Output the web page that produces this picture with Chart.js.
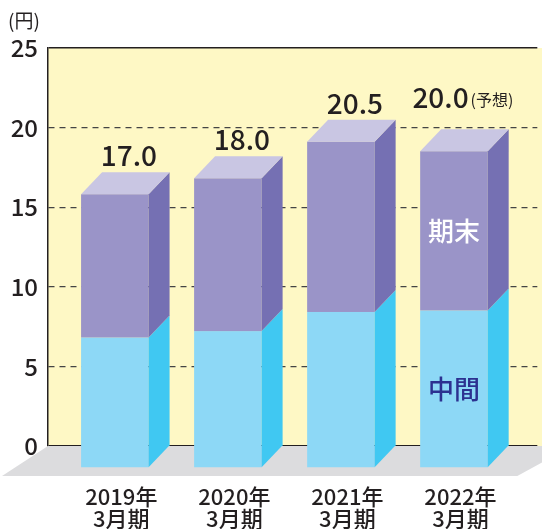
<!DOCTYPE html>
<html>
<head>
<meta charset="utf-8">
<script src="https://cdn.jsdelivr.net/npm/chart.js@4/dist/chart.umd.min.js"></script>
<style>
  body { margin: 0; background: #fff; }
  #wrap { width: 542px; height: 529px; }
</style>
</head>
<body>
<div id="wrap"><canvas id="myChart" width="542" height="529"></canvas></div>
<script>
const labels = [['2019年', '3月期'], ['2020年', '3月期'], ['2021年', '3月期'], ['2022年', '3月期']];
const interim = [8.2, 8.6, 9.8, 9.9];
const yearEnd = [9.0, 9.6, 10.7, 10.0];
const totalLabels = ['17.0', '18.0', '20.5', '20.0'];
const totalNotes = ['', '', '', '(予想)'];
const yTicks = [0, 5, 10, 15, 20, 25];

const FONT = "'Noto Sans CJK JP', 'Noto Sans', sans-serif";
const INK = '#231f20';
const DX = 21, DY = 22; // depth of the 3d bars

function poly(ctx, pts, color) {
    ctx.beginPath();
    ctx.moveTo(pts[0][0], pts[0][1]);
    pts.slice(1).forEach(p => ctx.lineTo(p[0], p[1]));
    ctx.closePath();
    ctx.fillStyle = color;
    ctx.fill();
}

const backdrop = {
    id: 'backdrop',
    beforeDraw(chart) {
        const { ctx, chartArea } = chart;
        ctx.save();
        ctx.fillStyle = '#fef8c5';
        ctx.fillRect(chartArea.left, chartArea.top, chart.width - chartArea.left, chartArea.bottom - chartArea.top);
        ctx.fillStyle = INK;
        ctx.font = '19px ' + FONT;
        ctx.textAlign = 'left';
        ctx.textBaseline = 'middle';
        ctx.fillText('(円)', 8, 21);
        ctx.restore();
    },
    beforeDatasetsDraw(chart) {
        // grey floor
        const { ctx, chartArea } = chart;
        const y0 = chart.scales.y.getPixelForValue(0);
        poly(ctx, [
            [chartArea.left, y0], [chart.width + 30, y0],
            [chartArea.right - 20, y0 + 30], [chartArea.left - 46, y0 + 30]
        ], '#dcdcde');
    }
};

const prism = {
    id: 'prism',
    afterDatasetsDraw(chart) {
        const ctx = chart.ctx;
        const metas = chart.getSortedVisibleDatasetMetas();
        ctx.save();
        labels.forEach((_, i) => {
            let top = null;
            metas.forEach((meta, k) => {
                const ds = chart.data.datasets[meta.index];
                const { x, y, base, width } = meta.data[i].getProps(['x', 'y', 'base', 'width'], true);
                const l = x - width / 2, r = x + width / 2;
                ctx.fillStyle = ds.frontColor;
                ctx.fillRect(l - DX, y + DY, width, base - y);
                poly(ctx, [[r - DX, y + DY], [r, y], [r, base], [r - DX, base + DY]], ds.sideColor);
                if (k === metas.length - 1) {
                    poly(ctx, [[l - DX, y + DY], [l, y], [r, y], [r - DX, y + DY]], ds.topColor);
                    top = { x, y };
                }
                // series names inside the last bar
                if (i === labels.length - 1) {
                    ctx.fillStyle = ds.nameColor;
                    ctx.font = '500 26px ' + FONT;
                    ctx.textAlign = 'center';
                    ctx.textBaseline = 'middle';
                    ctx.fillText(ds.label, x - DX, (y + base) / 2 + DY);
                }
            });

            // total label on top
            const note = totalNotes[i];
            const lift = note ? 21 : 6;
            ctx.fillStyle = INK;
            ctx.textBaseline = 'alphabetic';
            ctx.textAlign = 'left';
            ctx.font = '500 28px ' + FONT;
            const w1 = ctx.measureText(totalLabels[i]).width;
            ctx.font = '16px ' + FONT;
            const w2 = note ? ctx.measureText(note).width + 2 : 0;
            const cx = top.x - (note ? 12 : 7);
            let sx = cx - (w1 + w2) / 2;
            ctx.font = '500 28px ' + FONT;
            ctx.fillText(totalLabels[i], sx, top.y - lift);
            if (note) {
                ctx.font = '16px ' + FONT;
                ctx.fillText(note, sx + w1 + 2, top.y - lift - 2);
            }
        });
        ctx.restore();
    }
};

const ctx = document.getElementById('myChart').getContext('2d');
const myChart = new Chart(ctx, {
    type: 'bar',
    data: {
        datasets: [{
            label: '中間',
            data: interim.map((v, i) => ({ x: i, y: v })),
            backgroundColor: 'rgba(0,0,0,0)',
            frontColor: '#8dd8f6',
            sideColor: '#40c8f2',
            topColor: '#c6ecfb',
            nameColor: '#2c3190'
        }, {
            label: '期末',
            data: yearEnd.map((v, i) => ({ x: i, y: v })),
            backgroundColor: 'rgba(0,0,0,0)',
            frontColor: '#9a94c8',
            sideColor: '#7570b3',
            topColor: '#c9c6e3',
            nameColor: '#ffffff'
        }]
    },
    options: {
        responsive: false,
        animation: false,
        barThickness: 67.5,
        layout: { padding: { top: 48, left: 0, right: 0, bottom: 0 } },
        plugins: {
            legend: { display: false },
            tooltip: { enabled: false }
        },
        scales: {
            x: {
                type: 'linear',
                stacked: true,
                offset: false,
                min: -0.777,
                max: 3.552,
                afterBuildTicks: scale => { scale.ticks = labels.map((_, i) => ({ value: i })); },
                afterFit: scale => { scale.height = 83; },
                grid: { display: false },
                border: { display: false },
                ticks: {
                    callback: value => labels[value],
                    labelOffset: -14.5,
                    padding: 31,
                    color: INK,
                    font: { family: FONT, size: 22, weight: 500, lineHeight: 1.02 }
                }
            },
            y: {
                stacked: true,
                min: 0,
                max: 25,
                afterBuildTicks: scale => { scale.ticks = yTicks.map(v => ({ value: v })); },
                afterFit: scale => { scale.width = 48; },
                grid: {
                    drawTicks: false,
                    color: c => (c.tick && (c.tick.value === 0 || c.tick.value === 25)) ? INK : '#444',
                    lineWidth: c => (c.tick && (c.tick.value === 0 || c.tick.value === 25)) ? 1.5 : 1.2
                },
                border: {
                    display: true,
                    color: INK,
                    width: 1.5,
                    dash: c => (c.tick && c.tick.value !== 0 && c.tick.value !== 25) ? [6, 5] : []
                },
                ticks: {
                    padding: 10,
                    color: INK,
                    font: { family: FONT, size: 24, weight: 500 }
                }
            }
        }
    },
    plugins: [backdrop, prism]
});
</script>
</body>
</html>
